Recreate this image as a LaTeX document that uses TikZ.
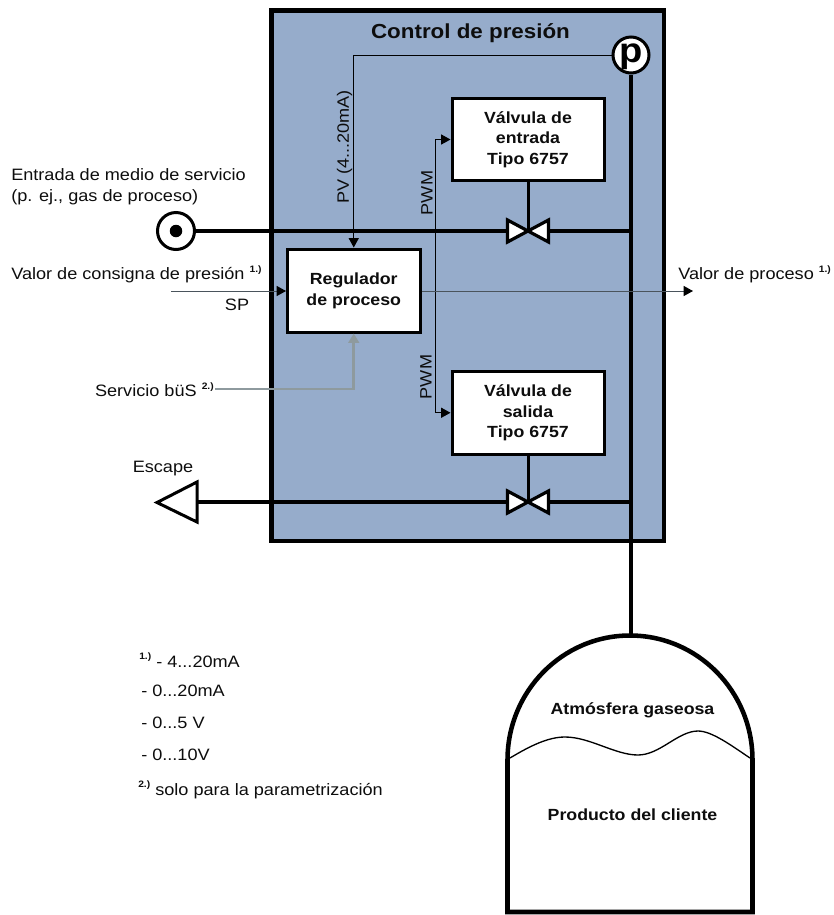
\documentclass[tikz,border=0pt]{standalone}
\usepackage{fontspec}
\setmainfont[FakeStretch=1.1]{Liberation Sans}
\usetikzlibrary{arrows.meta}
\definecolor{panelblue}{HTML}{96ACCB}
\definecolor{busgray}{HTML}{8E9A9E}
\definecolor{siggray}{HTML}{4A545C}
\newcommand{\supn}[1]{\raisebox{0.45em}{\fontsize{7pt}{8pt}\selectfont\bfseries #1}}
\tikzset{
  x=0.75pt,y=-0.75pt,
  lbl/.style={inner sep=0pt,font=\fontsize{12.35pt}{15.7pt}\selectfont,text=black!95},
  boldlbl/.style={inner sep=0pt,align=center,font=\fontsize{12.1pt}{15.5pt}\selectfont\bfseries,text=black!95},
  block/.style={draw=black,fill=white,line width=2.25pt,inner sep=0pt,align=center,font=\fontsize{12.1pt}{15.5pt}\selectfont\bfseries,text=black!95},
  pipe/.style={draw=black,line width=3pt},
  sig/.style={draw=black,line width=0.75pt},
  head/.style={-{Triangle[length=7pt,width=7.5pt,color=black]}},
  valveshape/.style={draw=black,fill=white,line width=2.4pt,line join=miter},
}
\begin{document}
\begin{tikzpicture}
\useasboundingbox (0,0) rectangle (834,915);
% panel
\node[draw=black,fill=panelblue,line width=3.6pt,minimum width=392.5*0.75pt,minimum height=530.5*0.75pt,inner sep=0pt] (panel) at (467.75,275.75) {};
\node[boldlbl,font=\fontsize{15.25pt}{18pt}\selectfont\bfseries] (title) at (470.5,33.5) {Control de presión};

% blocks
\node[block,minimum width=132.5*0.75pt,minimum height=83*0.75pt] (reg) at (353.75,290.5) {Regulador\\de proceso};
\node[block,minimum width=152*0.75pt,minimum height=82*0.75pt] (vin) at (528,139.5) {Válvula de\\entrada\\Tipo 6757};
\node[block,minimum width=152*0.75pt,minimum height=82.5*0.75pt] (vout) at (528,412.75) {Válvula de\\salida\\Tipo 6757};

% coordinates
\coordinate (vc1) at (528,231);
\coordinate (vc2) at (528,502);
\coordinate (j1) at (631,231);
\coordinate (j2) at (631,502);
\coordinate (spin) at (171,291);
\coordinate (pvout) at (693,291);
\coordinate (pwmj) at (435.7,291);
\coordinate (busstart) at (215,389);
\coordinate (tanktop) at (630,635);

% sensor
\node[circle,draw=black,fill=white,line width=2.25pt,minimum size=36*0.75pt,inner sep=0pt,font=\fontsize{26pt}{26pt}\selectfont\bfseries] (p) at (631,55) {\smash{\raisebox{-5.3pt}{p}}};
% inlet
\node[circle,draw=black,fill=white,line width=2.25pt,minimum size=37*0.75pt,inner sep=0pt] (inlet) at (176,231) {};
\node[circle,fill=black,minimum size=12.5*0.75pt,inner sep=0pt] (inletdot) at (inlet) {};
% exhaust
\node[draw=none,inner sep=0pt,minimum size=0pt] (exh) at (197,502) {};

% pipes
\draw[pipe] (inlet.east) -- (j1);
\draw[pipe] (exh.center) -- (j2);
\draw[pipe] (p.south) -- (p.south |- tanktop);
\draw[draw=black,line width=2.25pt] (vin.south) -- (vc1);
\draw[draw=black,line width=2.25pt] (vout.south) -- (vc2);
% valves
\draw[valveshape] (vc1) -- ++(-20.5,-11) -- ++(0,22) -- cycle;
\draw[valveshape] (vc1) -- ++(20.5,-11) -- ++(0,22) -- cycle;
\draw[valveshape] (vc2) -- ++(-20.5,-11) -- ++(0,22) -- cycle;
\draw[valveshape] (vc2) -- ++(20.5,-11) -- ++(0,22) -- cycle;
% exhaust triangle
\draw[draw=black,fill=white,line width=2.25pt] (exh.center) ++(0,-20) -- ++(-40,20.5) -- ++(40,19.5) -- cycle;

% signals
\draw[sig,head] (p.west) -| (reg.north);
\draw[sig,head] (pwmj) |- (vin.west);
\draw[sig,head] (pwmj) |- (vout.west);
\draw[sig,draw=siggray,head] (spin) -- (spin -| reg.west);
\draw[sig,draw=siggray,head] (reg.east |- pvout) -- (pvout);
\draw[draw=busgray,line width=2pt,-{Triangle[length=7pt,width=8pt]}] (busstart) -| (reg.south);

% labels
\node[lbl,anchor=west,align=left] (inlab) at (11,186.5) {Entrada de medio de servicio\\(p. ej., gas de proceso)};
\node[lbl,anchor=west] (splab) at (11,274.5) {Valor de consigna de presión \supn{1.)}};
\node[lbl] (sp) at (237,304.5) {SP};
\node[lbl,anchor=east] (buslab) at (214,389.5) {Servicio büS \supn{2.)}};
\node[lbl] (esc) at (163,468.5) {Escape};
\node[lbl,anchor=west] (pvlab) at (678,274.5) {Valor de proceso \supn{1.)}};
\node[lbl,rotate=90] (pv) at (344.5,147) {PV (4...20mA)};
\node[lbl,rotate=90] (pwm1) at (427,193) {PWM};
\node[lbl,rotate=90] (pwm2) at (426,377) {PWM};

% notes
\node[lbl,anchor=west] (n1) at (139,660) {\supn{1.)} - 4...20mA};
\node[lbl,anchor=west] (n2) at (141,691) {- 0...20mA};
\node[lbl,anchor=west] (n3) at (141,723) {- 0...5 V};
\node[lbl,anchor=west] (n4) at (141,755) {- 0...10V};
\node[lbl,anchor=west] (n5) at (138,790) {\supn{2.)} solo para la parametrización};

% tank
\draw[draw=black,fill=white,line width=3.4pt,line join=miter] (507.5,912) -- (507.5,760) arc[start angle=180,end angle=360,x radius=122.5,y radius=124.5] -- (752.5,912) -- cycle;
\draw[draw=black,line width=1pt] (510,758) .. controls (530,746) and (548,737) .. (565,737) .. controls (590,737) and (615,755) .. (638,755) .. controls (660,755) and (678,731) .. (698,731) .. controls (712,731) and (732,746) .. (750,758);
\node[boldlbl] (atm) at (632.5,710.5) {Atmósfera gaseosa};
\node[boldlbl] (prod) at (632.5,814.5) {Producto del cliente};
\end{tikzpicture}
\end{document}
